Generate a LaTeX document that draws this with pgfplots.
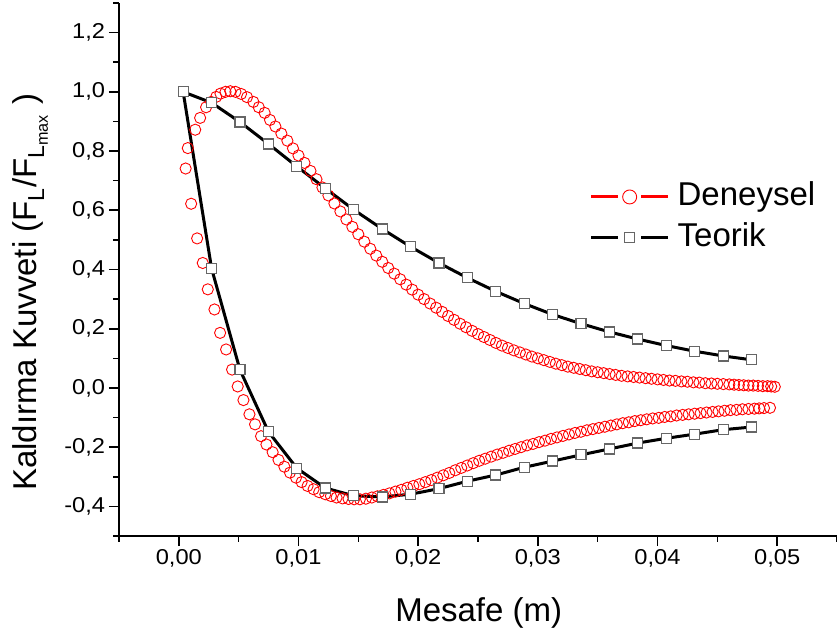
\documentclass[border=0pt]{standalone}
\usepackage{fontspec}
\setmainfont{Liberation Sans}
\usepackage{pgfplots}
\pgfplotsset{compat=1.18}
\pgfplotsset{
  redleg/.style={legend image code/.code={
    \draw[red, line width=3pt] (0pt,0pt) -- (27pt,0pt);
    \draw[red, line width=3pt] (50pt,0pt) -- (77pt,0pt);
    \draw[##1, mark size=7pt] plot coordinates {(38.5pt,0pt)};
  }},
  blackleg/.style={legend image code/.code={
    \draw[black, line width=3pt] (0pt,0pt) -- (27pt,0pt);
    \draw[black, line width=3pt] (50pt,0pt) -- (77pt,0pt);
    \draw[##1, only marks] plot coordinates {(38.5pt,0pt)};
  }},
}
\begin{document}
\begin{tikzpicture}
\path[use as bounding box] (-119pt,-98pt) rectangle (718pt,536pt);
\begin{axis}[
  scale only axis, width=718pt, height=533pt,
  xmin=-0.005, xmax=0.055, ymin=-0.5, ymax=1.3,
  axis x line*=bottom, axis y line*=left,
  axis line style={-, line width=1.6pt, black},
  xtick={0,0.01,0.02,0.03,0.04,0.05},
  minor xtick={-0.005,0.005,0.015,0.025,0.035,0.045,0.055},
  ytick={-0.4,-0.2,0,0.2,0.4,0.6,0.8,1.0,1.2},
  minor ytick={-0.5,-0.3,-0.1,0.1,0.3,0.5,0.7,0.9,1.1,1.3},
  tick align=outside,
  major tick length=10pt, minor tick length=5.5pt,
  every tick/.style={black, line width=1.6pt},
  scaled x ticks=false, scaled y ticks=false,
  xticklabel={\pgfmathprintnumber[fixed,fixed zerofill,precision=2,use comma,assume math mode=true]{\tick}},
  yticklabel={\pgfmathprintnumber[fixed,fixed zerofill,precision=1,use comma,assume math mode=true]{\tick}},
  tick label style={font=\fontsize{21.5}{25}\selectfont, xscale=1.1},
  xlabel={Mesafe (m)},
  xlabel style={at={(axis description cs:0.501,-0.161)}, anchor=base, font=\fontsize{33}{40}\selectfont},
  ylabel={Kaldırma Kuvveti (F\textsubscript{L}/F\textsubscript{L\textsubscript{max}} )},
  ylabel style={at={(axis description cs:-0.1146,0.457)}, anchor=base, font=\fontsize{33}{40}\selectfont},
  legend style={draw=none, fill=none, at={(axis description cs:0.814,0.598)}, anchor=center,
    font=\fontsize{33}{40}\selectfont, nodes={inner sep=2pt, text height=24pt, text depth=7pt},
    row sep=5.6pt, column sep=6pt},
  legend cell align=left,
  clip=false,
]
\addplot[only marks, red, mark=o, mark size=5.6pt, mark options={line width=0.9pt}, redleg] coordinates {
(0.00057,0.741) (0.00075,0.810) (0.00137,0.872) (0.00178,0.912) (0.00228,0.948)
(0.00270,0.966) (0.00312,0.983) (0.00348,0.994) (0.00390,1.000) (0.00430,1.002)
(0.00473,1.000) (0.00520,0.993) (0.00570,0.982) (0.00623,0.966) (0.00668,0.948)
(0.00717,0.929) (0.00762,0.905) (0.00807,0.883) (0.00857,0.859) (0.00907,0.835)
(0.00954,0.809) (0.0100,0.785) (0.0105,0.760) (0.0110,0.733) (0.0115,0.705)
(0.0120,0.677) (0.0125,0.650) (0.0130,0.623) (0.0135,0.596) (0.0140,0.569)
(0.0145,0.544) (0.0150,0.519) (0.0155,0.494) (0.0160,0.470) (0.0165,0.447)
(0.0170,0.426) (0.0175,0.405) (0.0180,0.386) (0.0185,0.367) (0.0190,0.349)
(0.0195,0.332) (0.0200,0.315) (0.0205,0.300) (0.0210,0.285) (0.0215,0.271)
(0.0220,0.257) (0.0225,0.243) (0.0230,0.230) (0.0235,0.217) (0.0240,0.205)
(0.0245,0.193) (0.0250,0.182) (0.0255,0.172) (0.0260,0.162) (0.0265,0.152)
(0.0270,0.143) (0.0275,0.135) (0.0280,0.127) (0.0285,0.120) (0.0290,0.113)
(0.0295,0.106) (0.0300,0.100) (0.0305,0.094) (0.0310,0.088) (0.0315,0.082)
(0.0320,0.077) (0.0325,0.072) (0.0330,0.068) (0.0335,0.064) (0.0340,0.060)
(0.0345,0.056) (0.0350,0.053) (0.0355,0.050) (0.0360,0.047) (0.0365,0.044)
(0.0370,0.041) (0.0375,0.039) (0.0380,0.037) (0.0385,0.035) (0.0390,0.033)
(0.0395,0.031) (0.0400,0.029) (0.0405,0.027) (0.0410,0.025) (0.0415,0.024)
(0.0420,0.022) (0.0425,0.021) (0.0430,0.019) (0.0435,0.018) (0.0440,0.016)
(0.0445,0.015) (0.0450,0.014) (0.0455,0.013) (0.0460,0.012) (0.0464,0.011)
(0.0468,0.010) (0.0472,0.009) (0.0476,0.008) (0.0480,0.008) (0.0484,0.007)
(0.0488,0.006) (0.0492,0.006) (0.0495,0.005) (0.0498,0.004)
(0.00103,0.622) (0.00153,0.505) (0.0020,0.422) (0.00242,0.333) (0.00298,0.265)
(0.00345,0.186) (0.00395,0.130) (0.00445,0.062) (0.00492,0.005) (0.0054,-0.041)
(0.0059,-0.089) (0.00637,-0.123) (0.00687,-0.163) (0.00732,-0.191) (0.00784,-0.217)
(0.00833,-0.243) (0.00882,-0.266) (0.00929,-0.286) (0.00979,-0.303) (0.01026,-0.318)
(0.01076,-0.331) (0.01126,-0.342) (0.01173,-0.352) (0.01224,-0.359) (0.01271,-0.365)
(0.01318,-0.370) (0.01368,-0.373) (0.01418,-0.375) (0.01465,-0.376) (0.01513,-0.376)
(0.01563,-0.374) (0.01613,-0.370) (0.0166,-0.366) (0.0171,-0.361) (0.0176,-0.356)
(0.0181,-0.350) (0.0186,-0.344) (0.0191,-0.337) (0.0196,-0.331) (0.0201,-0.325)
(0.0206,-0.318) (0.0211,-0.311) (0.0216,-0.303) (0.0221,-0.295) (0.0226,-0.287)
(0.0231,-0.278) (0.0236,-0.270) (0.0241,-0.262) (0.0246,-0.254) (0.0251,-0.246)
(0.0256,-0.239) (0.0261,-0.232) (0.0266,-0.225) (0.0271,-0.219) (0.0276,-0.212)
(0.0281,-0.206) (0.0286,-0.200) (0.0291,-0.194) (0.0296,-0.189) (0.0301,-0.183)
(0.0306,-0.178) (0.0311,-0.172) (0.0316,-0.167) (0.0321,-0.162) (0.0326,-0.157)
(0.0331,-0.152) (0.0336,-0.148) (0.0341,-0.143) (0.0346,-0.139) (0.0351,-0.135)
(0.0356,-0.131) (0.0361,-0.127) (0.0366,-0.123) (0.0371,-0.119) (0.0376,-0.116)
(0.0381,-0.112) (0.0386,-0.109) (0.0391,-0.106) (0.0396,-0.103) (0.0401,-0.101)
(0.0406,-0.098) (0.0411,-0.096) (0.0416,-0.093) (0.0421,-0.091) (0.0426,-0.089)
(0.0431,-0.087) (0.0436,-0.085) (0.0441,-0.083) (0.0446,-0.081) (0.0451,-0.079)
(0.0456,-0.077) (0.0461,-0.075) (0.0466,-0.074) (0.0471,-0.072) (0.0476,-0.071)
(0.0481,-0.070) (0.0485,-0.069) (0.0489,-0.068) (0.0494,-0.067)
};
\addlegendentry{Deneysel}
\addplot[black, line width=3pt, mark=square*, mark size=5pt,
  mark options={fill=white, draw=black!60, line width=1.2pt, solid}, blackleg] coordinates {
(0.04786,-0.132) (0.04549,-0.141) (0.04311,-0.156) (0.04074,-0.170) (0.03836,-0.186)
(0.03599,-0.206) (0.03361,-0.226) (0.03124,-0.247) (0.02886,-0.268) (0.02649,-0.294)
(0.02411,-0.315) (0.02174,-0.340) (0.01936,-0.359) (0.01699,-0.368) (0.01461,-0.364)
(0.01224,-0.338) (0.00986,-0.271) (0.00749,-0.148) (0.00511,0.061) (0.00274,0.403)
(0.00036,1.000)
(0.00274,0.963) (0.00511,0.898) (0.00749,0.824) (0.00986,0.748) (0.01224,0.674)
(0.01461,0.602) (0.01699,0.537) (0.01936,0.477) (0.02174,0.422) (0.02411,0.372)
(0.02649,0.326) (0.02886,0.285) (0.03124,0.248) (0.03361,0.217) (0.03599,0.189)
(0.03836,0.165) (0.04074,0.143) (0.04311,0.124) (0.04549,0.108) (0.04786,0.095)
};
\addlegendentry{Teorik}
\end{axis}
\end{tikzpicture}
\end{document}
